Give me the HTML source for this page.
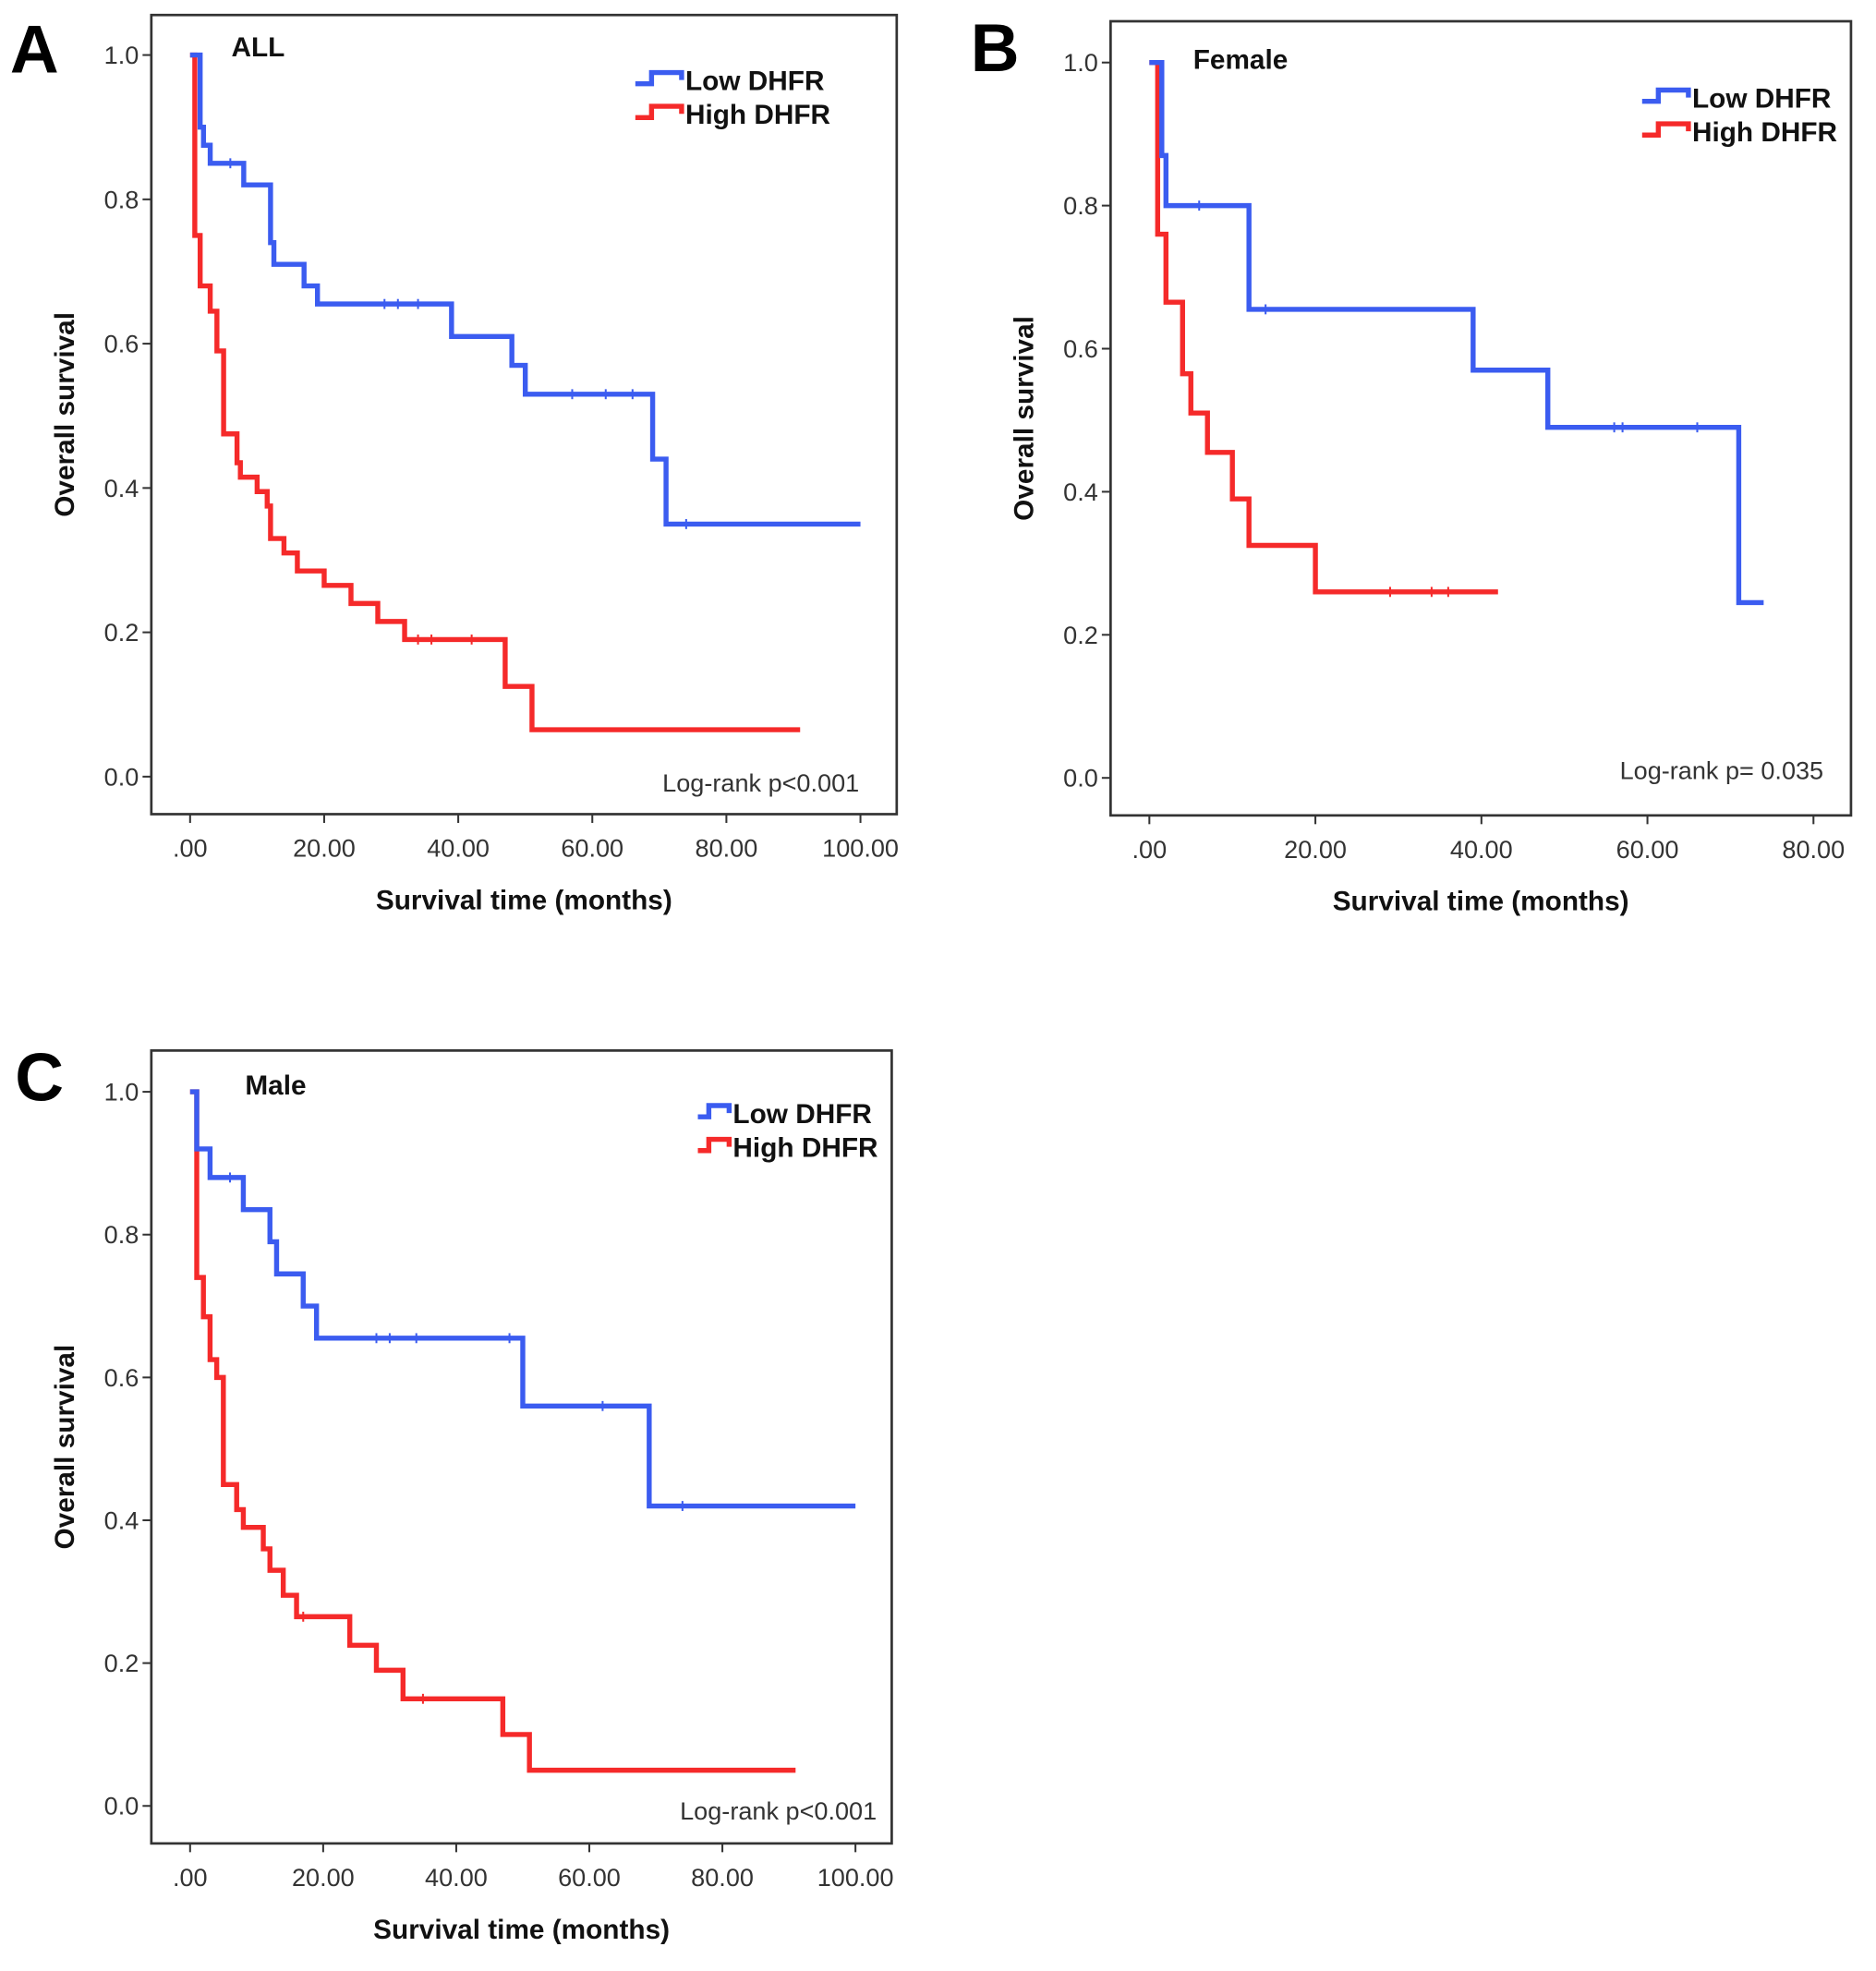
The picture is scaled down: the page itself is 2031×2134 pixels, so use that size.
<!DOCTYPE html>
<html><head><meta charset="utf-8"><style>
html,body{margin:0;padding:0;background:#fff}
svg{display:block}
text{font-family:"Liberation Sans",sans-serif}
.tk{font-size:20px;fill:#333}
.ttl{font-size:22px;font-weight:bold;fill:#111}
</style></head><body>
<svg id="fig" width="2031" height="2134" viewBox="0 0 1500 1576" preserveAspectRatio="none" xmlns="http://www.w3.org/2000/svg"></svg>
<script>
// Panel A (ALL)
const aLowT=[0,1.5,2,3,8,12,12.5,17,19,39,48,50,69,71,100];
const aLowS=[1,0.9,0.875,0.85,0.82,0.74,0.71,0.68,0.655,0.61,0.57,0.53,0.44,0.35,0.35];
const aHighT=[0,0.7,1.5,3,4,5,7,7.5,10,11.5,12,14,16,20,24,28,32,47,51,91];
const aHighS=[1,0.75,0.68,0.645,0.59,0.475,0.435,0.415,0.395,0.375,0.33,0.31,0.285,0.265,0.24,0.215,0.19,0.125,0.065,0.065];
const aLowCens=[6,29,31,34,57,62,66,74];
const aHighCens=[34,36,42];
// Panel B (Female)
const bLowT=[0,1.5,2,12,39,48,71,74];
const bLowS=[1,0.87,0.8,0.655,0.57,0.49,0.245,0.245];
const bHighT=[0,1,2,4,5,7,10,12,20,42];
const bHighS=[1,0.76,0.665,0.565,0.51,0.455,0.39,0.325,0.26,0.26];
const bLowCens=[6,14,56,57,66];
const bHighCens=[29,34,36];
// Panel C (Male)
const cLowT=[0,1,3,8,12,13,17,19,50,69,100];
const cLowS=[1,0.92,0.88,0.835,0.79,0.745,0.70,0.655,0.56,0.42,0.42];
const cHighT=[0,1,2,3,4,5,7,8,11,12,14,16,24,28,32,47,51,91];
const cHighS=[1,0.74,0.685,0.625,0.60,0.45,0.415,0.39,0.36,0.33,0.295,0.265,0.225,0.19,0.15,0.10,0.05,0.05];
const cLowCens=[6,28,30,34,48,62,74];
const cHighCens=[17,35];
const xTicksA=[0,20,40,60,80,100];
const xTickLabelsA=[".00","20.00","40.00","60.00","80.00","100.00"];
const xTicksB=[0,20,40,60,80];
const xTickLabelsB=[".00","20.00","40.00","60.00","80.00"];
const yTicks=[0,0.2,0.4,0.6,0.8,1.0];
const yTickLabels=["0.0","0.2","0.4","0.6","0.8","1.0"];

const NS="http://www.w3.org/2000/svg";
const svg=document.getElementById('fig');
function mk(tag,attrs,parent){const e=document.createElementNS(NS,tag);for(const k in attrs)e.setAttribute(k,attrs[k]);(parent||svg).appendChild(e);return e;}
function txt(s,attrs,parent){const e=mk('text',attrs,parent);e.textContent=s;return e;}

function panel(p){
  const g=mk('g',{});
  
  
  const X=v=>p.x0+v*(p.x1-p.x0)/p.xmax;
  const Y=v=>p.y0+(p.ytop-p.y0)*v;
  const box=mk('rect',{x:p.bx,y:p.by,width:p.bw,height:p.bh,fill:'none',stroke:'#333','stroke-width':2},g);
  
  
  const L=txt(p.letter,{x:p.lx,y:p.ly,'font-size':54,'font-weight':'bold',fill:'#000'},g);
  
  
  yTicks.forEach((t,i)=>{
    const yy=Y(t);
    mk('line',{x1:p.bx-7,x2:p.bx,y1:yy,y2:yy,stroke:'#333','stroke-width':1.5},g);
    const e=txt(yTickLabels[i],{x:p.bx-10,y:yy+7,'text-anchor':'end',class:'tk'},g);
    
    
  });
  p.xt.forEach((t,i)=>{
    const xx=X(t);
    mk('line',{x1:xx,x2:xx,y1:p.by+p.bh,y2:p.by+p.bh+7,stroke:'#333','stroke-width':1.5},g);
    const e=txt(p.xl[i],{x:xx,y:p.by+p.bh+34,'text-anchor':'middle',class:'tk'},g);
    
    
  });
  const xt=txt('Survival time (months)',{x:p.bx+p.bw/2,y:p.by+p.bh+76,'text-anchor':'middle',class:'ttl'},g);
  
  
  const ycx=p.bx-62, ycy=p.by+p.bh/2;
  const yt=txt('Overall survival',{x:ycx,y:ycy,'text-anchor':'middle',class:'ttl',transform:`rotate(-90 ${ycx} ${ycy})`},g);
  
  
  const st=txt(p.sub,{x:p.sx,y:p.sy,class:'ttl'},g);
  
  
  const lr=txt(p.lr,{x:p.lrx,y:p.lry,'text-anchor':'end',class:'tk'},g);
  
  
  function curve(T,S,cens,color,name){
    let d=`M${X(T[0])},${Y(S[0])}`;
    for(let i=1;i<T.length;i++){d+=` H${X(T[i])} V${Y(S[i])}`;}
    const path=mk('path',{d:d,fill:'none',stroke:color,'stroke-width':4},g);
    
    
    cens.forEach(c=>{
      let s=S[0];for(let i=0;i<T.length;i++){if(T[i]<=c)s=S[i];}
      const m=mk('line',{x1:X(c),x2:X(c),y1:Y(s)-4,y2:Y(s)+4,stroke:color,'stroke-width':1.5},g);
      
      
    });
  }
  curve(p.highT,p.highS,p.highC,'#f52a2a','high-dhfr');
  curve(p.lowT,p.lowS,p.lowC,'#3b5cf0','low-dhfr');
  [['Low DHFR','#3b5cf0',p.leg1y],['High DHFR','#f52a2a',p.leg2y]].forEach(([lab,col,ly])=>{
    const lg=mk('g',{},g);
    
    
    const w=p.legw;
    mk('path',{d:`M${p.legx},${ly+3} H${p.legx+w*0.35} V${ly-6} H${p.legx+w} V${ly}`,fill:'none',stroke:col,'stroke-width':4},lg);
    txt(lab,{x:p.legx+w+3,y:ly+8,class:'ttl','font-size':21},lg);
  });
}
panel({id:'a',letter:'A',lx:8,ly:58,bx:121,by:12,bw:596,bh:639,x0:152,x1:688,xmax:100,y0:621,ytop:44,
 xt:xTicksA,xl:xTickLabelsA,sub:'ALL',sx:185,sy:45,lr:'Log-rank p<0.001',lrx:687,lry:633,
 lowT:aLowT,lowS:aLowS,lowC:aLowCens,highT:aHighT,highS:aHighS,highC:aHighCens,legx:508,legw:37,leg1y:64,leg2y:91});
panel({id:'b',letter:'B',lx:776,ly:57,bx:888,by:17,bw:592,bh:635,x0:919,x1:1450,xmax:80,y0:622,ytop:50,
 xt:xTicksB,xl:xTickLabelsB,sub:'Female',sx:954,sy:55,lr:'Log-rank p= 0.035',lrx:1458,lry:623,
 lowT:bLowT,lowS:bLowS,lowC:bLowCens,highT:bHighT,highS:bHighS,highC:bHighCens,legx:1313,legw:37,leg1y:78,leg2y:105});
panel({id:'c',letter:'C',lx:12,ly:880,bx:121,by:840,bw:592,bh:634,x0:152,x1:684,xmax:100,y0:1444,ytop:873,
 xt:xTicksA,xl:xTickLabelsA,sub:'Male',sx:196,sy:875,lr:'Log-rank p<0.001',lrx:701,lry:1455,
 lowT:cLowT,lowS:cLowS,lowC:cLowCens,highT:cHighT,highS:cHighS,highC:cHighCens,legx:558,legw:25,leg1y:890,leg2y:917});
</script>
</body></html>
